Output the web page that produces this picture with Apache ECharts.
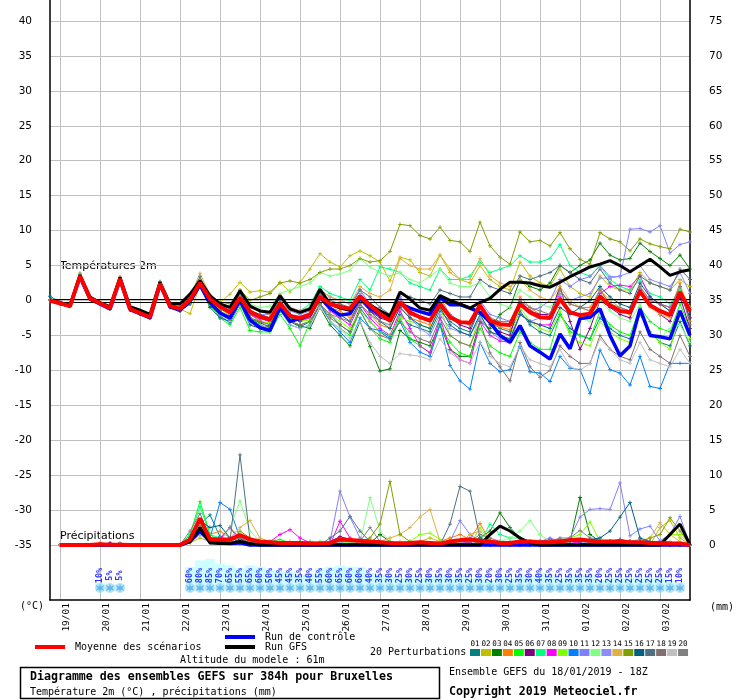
<!DOCTYPE html>
<html><head><meta charset="utf-8">
<script src="https://cdn.jsdelivr.net/npm/echarts@6/dist/echarts.min.js"></script>
<style>html,body{margin:0;padding:0;background:#fff}#c{width:740px;height:700px}</style>
</head><body><div id="c"></div>
<script>
// ---- tick / category labels ----
const dayLabels = ['18/01','19/01','20/01','21/01','22/01','23/01','24/01','25/01','26/01','27/01','28/01','29/01','30/01','31/01','01/02','02/02','03/02'];
const hourLabels = ['18Z','00Z','06Z','12Z'];
const yLeftTicks = [-35, 40, 5];
const yRightTicks = [0, 75, 5];

// ---- temperature (°C), 6-hourly from 18/01 18Z ----
const tMean = [
0.0,-0.4,-0.8,3.5,0.3,-0.4,-1.1,3.1,-1.2,-1.8,-2.4,2.4,-0.8,
-1.2,0.1,2.5,0.2,-0.9,-1.7,0.4,-1.6,-2.3,-2.7,-0.4,-2.2,-2.5,
-2.0,0.5,-0.5,-0.9,-1.2,0.6,-0.7,-1.9,-2.9,-0.2,-1.7,-2.4,-2.9,
-0.5,-2.4,-3.1,-3.2,-0.7,-2.9,-3.4,-3.5,-0.5,-1.7,-2.4,-2.5,0.2,
-1.7,-2.1,-1.9,0.6,-0.7,-1.5,-1.7,1.3,-0.7,-1.5,-2.1,1.2,-1.5];
const tGfs = [
0.1,-0.3,-0.7,3.6,0.5,-0.3,-0.9,3.3,-0.9,-1.4,-2.0,2.6,-0.5,
-0.5,0.9,2.8,0.7,-0.5,-1.0,1.4,-0.8,-1.5,-1.7,0.7,-1.2,-1.7,
-1.2,1.6,-0.5,-1.1,-1.4,0.6,-0.6,-1.5,-2.2,1.2,0.2,-1.1,-1.4,
0.7,0.0,-0.5,-1.1,-0.3,0.3,1.6,2.6,2.6,2.5,2.1,1.9,2.6,
3.4,4.1,4.8,5.2,5.7,5.0,4.1,5.0,5.9,4.8,3.6,4.1,4.4];
const tCtrl = [
0.0,-0.4,-0.8,3.4,0.2,-0.5,-1.2,3.0,-1.3,-1.9,-2.5,2.3,-0.9,
-1.4,-0.1,2.2,-0.3,-1.8,-2.5,0.0,-2.8,-3.9,-4.3,-1.0,-3.0,-2.6,
-2.1,0.5,-1.1,-2.1,-1.9,0.4,-1.1,-2.1,-2.6,-0.5,-1.1,-1.6,-2.0,
0.4,-0.6,-0.6,-1.1,-1.7,-3.1,-5.0,-6.0,-3.6,-6.5,-7.4,-8.4,-4.8,
-6.9,-2.6,-2.4,-1.2,-5.0,-7.9,-6.5,-1.2,-5.0,-5.2,-5.5,-1.5,-5.0];
const t01 = [
0.6,-0.2,-0.6,3.4,0.5,-0.3,-1.0,3.2,-1.0,-1.6,-2.2,2.5,-0.6,
-1.0,0.3,2.0,-0.5,-2.0,-2.8,-0.3,-2.5,-3.5,-4.0,-1.5,-3.0,-3.8,
-3.0,-0.5,-2.0,-3.5,-4.5,-1.0,-3.0,-4.5,-5.5,-2.0,-3.5,-4.0,-4.5,
-1.5,-3.0,-4.0,-4.5,-1.0,-3.0,-4.0,-4.5,-1.5,-3.5,-4.5,-5.0,-2.0,
-4.0,-5.0,-5.5,-2.5,-4.0,-5.0,-5.5,-2.0,-4.5,-6.0,-6.5,-3.0,-6.5];
const t02 = [
0.0,-0.5,-0.9,3.9,0.4,-0.4,-1.1,3.3,-1.1,-1.7,-2.3,2.6,-0.7,
-1.2,-1.9,2.2,0.5,-0.3,0.9,2.6,1.2,1.4,1.2,2.6,1.2,2.6,
4.5,6.7,5.5,4.8,6.4,7.1,6.4,5.5,2.8,6.2,5.8,4.0,3.5,
6.5,4.5,3.0,2.5,5.0,3.0,2.0,1.5,5.5,3.5,2.5,2.0,4.5,
2.0,1.0,0.5,3.5,2.0,1.5,1.5,4.0,2.5,2.0,1.5,3.0,2.0];
const t03 = [
0.1,-0.4,-0.7,3.6,0.2,-0.5,-1.2,3.0,-1.3,-1.9,-2.5,2.3,-1.0,
-1.5,-0.5,2.0,-0.8,-2.0,-2.6,-0.2,-2.5,-3.2,-3.8,-1.5,-3.0,-3.6,
-4.0,-1.0,-3.5,-5.0,-6.5,-3.0,-6.6,-10.1,-9.8,-4.3,-5.5,-6.0,-6.5,
-3.5,-7.0,-8.0,-8.0,-3.0,-4.0,-2.0,-1.0,3.0,2.0,1.5,2.5,5.0,
4.0,5.0,5.8,8.2,6.5,5.8,6.0,8.2,7.0,6.0,5.0,6.5,4.5];
const t04 = [
0.0,-0.3,-0.8,3.4,0.4,-0.3,-1.0,3.2,-1.1,-1.7,-2.3,2.5,-0.8,
-1.2,0.2,2.8,0.3,-1.2,-2.0,0.0,-2.0,-2.8,-3.5,-0.8,-2.5,-3.0,
-2.5,0.8,-1.0,-1.5,-2.5,-0.5,-2.0,-3.5,-4.0,-1.0,-2.5,-3.0,-3.5,
0.5,-2.0,-3.0,-3.5,-0.5,-3.0,-3.8,-4.2,0.5,-1.0,-2.0,-2.0,1.5,
-0.5,-1.0,-1.0,1.5,-0.5,-1.5,-2.0,2.0,0.0,-0.5,-1.5,2.5,-3.0];
const t05 = [
0.0,-0.4,-0.8,3.6,0.3,-0.4,-1.1,3.3,-1.2,-1.8,-2.4,2.6,-0.7,
-1.3,0.0,2.3,-0.5,-2.5,-3.5,-1.0,-4.3,-4.5,-4.5,-2.0,-4.0,-6.5,
-3.1,-0.5,-3.0,-4.0,-5.0,-1.5,-4.0,-5.5,-6.0,-2.5,-5.5,-6.5,-7.5,
-3.5,-6.0,-7.5,-8.0,-4.0,-6.5,-7.5,-8.0,-4.5,-6.0,-7.0,-7.0,-2.0,
-4.5,-5.0,-5.5,-1.5,-3.5,-4.5,-5.0,-1.0,-3.0,-4.0,-4.5,-0.5,-4.0];
const t06 = [
0.0,-0.4,-0.8,3.5,0.2,-0.5,-1.2,3.0,-1.3,-1.9,-2.5,2.3,-0.9,
-1.4,0.0,2.4,0.0,-1.5,-2.5,0.0,-2.0,-2.5,-3.0,-0.5,-2.0,-2.5,
-2.0,0.5,-0.5,-1.0,-1.5,0.5,-1.5,-2.5,-3.0,-0.5,-2.0,-2.5,-3.0,
0.0,-2.5,-3.5,-4.0,-1.0,-3.5,-4.5,-5.0,0.0,-1.5,-2.0,-2.0,2.0,
-3.0,-7.0,-4.0,0.0,-1.0,-2.0,-2.5,1.5,-0.5,-2.0,-3.0,0.5,-4.0];
const t07 = [
0.0,-0.4,-0.8,3.7,0.3,-0.4,-1.1,3.2,-1.2,-1.8,-2.4,2.5,-0.8,
-1.1,0.3,2.5,0.5,-0.5,-1.5,1.0,-1.5,-2.0,-2.5,0.5,-1.5,-1.5,
-0.5,2.0,1.0,0.5,0.0,3.0,1.5,4.8,4.5,4.0,2.5,2.0,1.5,
4.5,3.0,3.0,3.5,5.5,4.0,4.5,5.0,6.4,5.5,5.5,6.0,8.0,
5.0,4.0,3.5,5.0,3.0,2.0,1.5,3.0,1.0,0.5,-0.5,1.5,-1.0];
const t08 = [
0.0,-0.4,-0.8,3.5,0.3,-0.4,-1.1,3.1,-1.2,-1.8,-2.4,2.4,-0.8,
-1.2,0.2,2.5,0.1,-1.0,-1.8,0.3,-2.0,-2.6,-3.0,-0.5,-2.0,-2.8,
-2.5,0.2,-1.5,-2.5,-3.5,-0.5,-2.5,-4.0,-5.0,-1.5,-4.0,-6.5,-7.5,
-2.5,-7.0,-8.5,-9.0,-3.0,-5.0,-5.8,-6.0,-2.0,-3.0,-3.5,-3.5,0.5,
-1.5,-2.0,-2.0,1.0,2.0,2.2,2.0,3.5,0.5,-0.5,-1.0,1.0,-2.5];
const t09 = [
0.0,-0.4,-0.8,3.6,0.4,-0.3,-1.0,3.2,-1.1,-1.7,-2.3,2.5,-0.7,
-1.1,0.4,2.3,0.0,-1.2,-2.2,0.1,-2.5,-3.0,-3.2,-0.8,-2.5,-3.0,
-2.8,-0.5,-2.0,-3.0,-4.0,-1.5,-3.0,-4.5,-5.0,-2.5,-3.0,-3.5,-4.0,
-1.0,-5.0,-6.0,-6.5,-2.0,-4.5,-5.0,-5.5,-1.0,-3.0,-4.0,-4.5,-1.5,
-5.0,-6.0,-6.5,-3.0,-4.5,-5.5,-6.0,-2.0,-4.5,-6.0,-7.0,-2.0,-5.5];
const t10 = [
0.0,-0.4,-0.8,3.4,0.2,-0.5,-1.2,3.0,-1.3,-1.9,-2.5,2.3,-0.9,
-1.5,-0.2,2.2,-0.3,-2.2,-3.2,-0.5,-3.0,-3.8,-4.2,-1.2,-3.5,-4.0,
-3.5,-0.5,-3.0,-4.5,-6.0,-2.5,-4.0,-4.3,-5.2,-3.0,-6.0,-7.4,-8.0,
-3.4,-9.3,-11.5,-12.7,-6.0,-9.0,-10.2,-9.9,-6.6,-10.2,-10.4,-11.6,-8.0,
-9.7,-9.9,-13.3,-7.1,-9.9,-10.4,-12.1,-8.0,-12.3,-12.6,-9.0,-9.0,-9.0];
const t11 = [
0.0,-0.4,-0.8,3.5,0.3,-0.4,-1.1,3.1,-1.2,-1.8,-2.4,2.4,-0.8,
-1.2,0.3,2.6,0.6,-0.5,-1.2,1.0,-1.0,-1.5,-2.0,0.5,-1.0,-1.5,
-1.0,1.5,0.5,0.0,-0.5,1.5,-0.5,-1.5,-2.0,0.5,-1.5,-2.5,-3.0,
0.0,-2.0,-3.0,-3.5,0.0,-2.0,-2.5,-3.0,-0.5,-1.5,-1.0,0.0,3.0,
2.0,3.0,3.4,5.0,3.4,3.4,10.2,10.3,9.8,10.7,6.8,8.0,8.4];
const t12 = [
0.0,-0.4,-0.8,3.6,0.3,-0.4,-1.1,3.2,-1.2,-1.8,-2.4,2.5,-0.8,
-1.2,0.2,2.5,0.2,-0.5,-1.0,0.8,-0.5,-1.0,-0.8,1.0,1.5,2.0,
2.5,4.0,3.5,3.8,4.3,6.0,4.8,4.0,3.5,4.0,3.0,2.5,3.5,
4.5,2.5,2.0,2.0,2.5,0.5,-0.5,-1.0,1.5,0.5,-0.5,-1.0,1.0,
-1.5,-2.5,-3.0,0.0,-1.5,-2.5,-3.0,-0.5,-5.0,-5.5,-4.0,-3.5,-6.0];
const t13 = [
0.0,-0.4,-0.8,3.4,0.3,-0.4,-1.1,3.0,-1.2,-1.8,-2.4,2.3,-0.8,
-1.2,0.0,2.2,0.2,-1.0,-1.5,0.5,-1.5,-2.0,-2.0,0.0,-1.5,-2.0,
-1.5,1.0,-0.5,-1.0,-1.5,1.0,-0.5,-1.5,-2.5,0.5,-2.5,-4.0,-5.0,
-2.0,-4.0,-4.5,-5.0,-2.5,-4.5,-5.5,-5.8,-2.0,-3.0,-2.5,-2.0,1.0,
0.0,0.5,1.0,3.2,3.2,3.5,4.0,5.0,3.0,2.5,2.0,4.0,1.0];
const t14 = [
0.0,-0.4,-0.8,3.9,0.4,-0.3,-1.0,3.4,-1.1,-1.7,-2.3,2.6,-0.6,
-1.0,0.5,3.9,0.8,-0.5,-1.0,1.5,-1.0,-1.5,-2.0,0.8,-1.0,-1.5,
-1.0,1.5,0.5,0.0,-0.5,2.0,1.0,0.5,1.5,6.0,5.0,4.5,4.5,
6.5,4.0,3.0,3.0,6.0,3.5,2.5,2.0,3.0,1.5,0.5,0.0,2.0,
0.0,-1.0,-1.5,1.5,0.0,-1.0,-1.5,1.0,-1.0,-2.0,-2.5,2.0,-1.0];
const t15 = [
0.0,-0.4,-0.8,3.5,0.3,-0.4,-1.1,3.1,-1.2,-1.8,-2.4,2.4,-0.8,
-1.2,0.2,2.6,0.6,-0.2,-0.5,1.5,0.0,0.5,1.0,2.5,2.8,2.5,
3.0,4.0,4.5,4.5,5.0,6.0,5.5,5.7,7.0,10.9,10.7,9.3,8.8,
10.5,8.6,8.4,7.0,11.2,7.8,6.2,5.2,9.8,8.4,8.6,7.8,9.7,
7.4,5.9,5.2,9.7,8.8,8.4,7.1,8.8,8.1,7.7,7.4,10.2,9.8];
const t16 = [
0.0,-0.4,-0.8,3.4,0.2,-0.5,-1.2,3.0,-1.3,-1.9,-2.5,2.3,-0.9,
-1.4,-0.5,2.0,-1.0,-2.5,-3.0,-0.5,-3.5,-4.0,-3.5,-1.0,-2.5,-3.0,
-2.0,0.5,-1.0,-2.0,-3.0,0.0,-1.5,-3.0,-4.0,-1.0,-2.5,-3.5,-4.0,
-1.0,-3.5,-4.5,-5.0,-2.0,-4.5,-5.0,-5.5,-2.0,-3.0,-3.5,-4.0,-1.0,
-2.0,-1.0,0.0,2.0,0.5,-0.5,-1.0,2.5,0.5,-0.5,-1.5,1.0,-2.5];
const t17 = [
0.0,-0.4,-0.8,3.7,0.4,-0.3,-1.0,3.3,-1.1,-1.7,-2.3,2.7,-0.6,
-1.0,0.8,3.4,0.5,-0.8,-1.5,0.8,-1.5,-2.0,-2.5,0.0,-2.0,-2.5,
-2.0,1.0,0.0,-0.5,-1.0,1.5,0.5,-1.0,-2.0,1.0,0.5,0.0,-0.5,
1.5,1.0,0.5,0.5,3.0,2.0,1.5,1.0,3.5,3.0,3.5,4.0,5.0,
4.0,3.0,2.5,4.5,2.5,1.5,1.0,3.5,2.5,2.0,1.5,4.5,3.0];
const t18 = [
0.0,-0.4,-0.8,3.5,0.3,-0.4,-1.1,3.1,-1.2,-1.8,-2.4,2.4,-0.8,
-1.2,0.0,2.4,-0.2,-1.8,-2.8,-0.5,-2.5,-3.0,-3.5,-1.0,-3.0,-3.5,
-3.0,-0.5,-2.5,-3.5,-4.5,-1.5,-4.0,-5.0,-5.5,-3.0,-4.5,-5.5,-6.0,
-2.5,-5.0,-6.0,-6.5,-3.0,-7.5,-9.5,-11.5,-6.0,-9.5,-11.0,-10.0,-6.5,
-8.0,-9.0,-9.0,-5.0,-7.0,-8.0,-8.5,-4.5,-7.0,-8.0,-9.0,-5.0,-8.0];
const t19 = [
0.0,-0.4,-0.8,3.4,0.2,-0.5,-1.2,3.0,-1.3,-1.9,-2.5,2.3,-0.9,
-1.4,-0.3,2.3,-0.5,-2.0,-3.0,-0.5,-3.0,-3.5,-4.0,-1.5,-3.5,-4.0,
-3.5,-1.0,-3.0,-4.0,-5.5,-3.0,-6.0,-8.0,-9.0,-7.6,-7.8,-8.0,-8.5,
-5.5,-7.5,-8.5,-9.0,-6.0,-8.0,-9.0,-9.5,-6.5,-8.5,-9.0,-9.5,-7.0,
-9.5,-10.0,-9.0,-5.5,-7.0,-8.5,-9.0,-6.0,-8.5,-9.0,-9.5,-7.0,-9.0];
const t20 = [
0.0,-0.4,-0.8,3.6,0.3,-0.4,-1.1,3.2,-1.2,-1.8,-2.4,2.5,-0.8,
-1.2,0.5,3.0,0.0,-1.5,-2.5,0.3,-2.0,-3.0,-4.0,-1.0,-3.0,-3.5,
-3.0,-0.5,-2.0,-2.5,-3.0,-0.5,-2.0,-3.0,-3.5,-0.5,-2.0,-2.5,-3.0,
-0.5,-2.5,-3.0,-3.5,-1.0,-2.5,-3.0,-3.0,0.0,-1.0,-1.5,-2.0,1.5,
-0.5,-1.0,-1.5,1.5,-0.5,-1.0,-1.5,2.0,0.0,-0.5,-1.0,2.0,-3.5];

// ---- precipitation (mm / 6h) ----
const pMean = [
null,0,0,0,0,0.1,0.05,0.05,0,0,0,0,0,
0,0.8,3.8,0.8,0.8,0.8,1.4,0.8,0.5,0.4,0.3,0.3,0.3,
0.2,0.2,0.3,0.8,0.7,0.6,0.5,0.4,0.3,0.2,0.3,0.4,0.3,
0.2,0.5,0.7,0.8,0.6,0.5,0.3,0.3,0.5,0.5,0.4,0.4,0.5,
0.7,0.8,0.6,0.5,0.5,0.5,0.4,0.4,0.3,0.3,0.2,0.2,0];
const pGfs = [
null,0,0,0,0,0,0,0,0,0,0,0,0,
0,0.5,2.5,0.3,0.2,0.2,0.5,0.2,0,0,0,0,0,
0,0,0,0,0,0,0,0,0,0,0,0,0,
0,0,0,0,0,1.5,2.7,2.0,1.0,0.3,0,0,0,
0,0,0,0,0,0,0,0,0,0,1.5,3.0,0];
const pCtrl = [
null,0,0,0,0,0,0,0,0,0,0,0,0,
0,0.5,2.0,0.5,0.3,0.2,0.3,0,0,0,0,0,0,
0,0,0,0,0,0,0,0,0,0,0,0,0,
0,0,0,0,0,0,0,0,0,0,0,0,0,
0,0,0,0,0,0,0,0,0,0,0,0,0];
const p01 = [
null,0,0,0,0,0,0,0,0,0,0,0,0,
0,1.0,3.0,4.3,1.2,0.5,0.3,0.2,0,0,0.2,0,0,
0,0,0.3,0.5,0.3,0,0,0,0,0,0,0,0,
0,0,0.5,0.3,0,0,0,0.3,0.5,0,0,0,0,
0,0,0,0,0,0,0.5,0.3,0,0,0,0,0];
const p02 = [
null,0,0,0,0,0,0,0,0,0,0,0,0,
0,0.3,1.0,0.5,0.5,0.5,0.3,0.2,0,0,0,0,0.3,
0.5,0.2,0,0,0,0,0.3,0.5,0.3,0,0,0.5,1.0,
0.5,0.3,0,0,0,0,0,0.5,0.3,0,0,0,0,
0.3,0,0,0,0,0.5,0.3,0,0,2.5,3.5,1.0,0];
const p03 = [
null,0,0,0,0,0,0,0,0,0,0,0,0,
0,1.0,3.0,1.0,0.5,0.3,0.2,0,0,0,0,0.3,0.5,
0.3,0,0,0,0.3,0.5,0.3,1.5,0.5,0,0,0,0,
0,0,0,0.5,1.0,2.0,4.6,2.5,1.0,0.5,0.5,0.8,0.5,
0.5,6.8,1.5,0.5,0.5,0.8,0.5,0.5,0.3,0.3,0,0,0];
const p04 = [
null,0,0,0,0,0.3,0,0,0,0,0,0,0,
0,0.5,2.5,1.5,2.0,1.0,0.5,0.2,0,0,0.2,0.5,0.3,
0.2,0,0,0,0,0,0,0,0.3,0.5,0.3,0,0,
0.5,1.0,1.5,0.8,3.1,0.5,0.3,0,0,0,0.5,0.3,0,
0,0,0,0.5,0.5,0.3,0,0,0,0,0,0,0];
const p05 = [
null,0,0,0,0,0,0,0,0,0,0,0,0,
0,1.5,6.2,1.5,0.5,0.5,0.3,0.5,0.5,0.5,0.8,0.3,0.5,
0.3,0.5,0.3,0.5,0.5,0.3,0,0,0,0,0,0,0,
0,0,0,0,0,0,0,0,0,0.3,0.5,0.3,0,
0,0,0,0,0,0,0.3,0.5,0,0.5,0.5,0,0];
const p06 = [
null,0,0,0,0,0,0.3,0,0,0,0,0,0,
0,0.5,2.0,0.5,0.5,0.3,0.8,0.3,0,0,0,0,0,
0,0,0.5,1.2,0.8,0.3,0,0,0,0,0,0,0,
0.3,0.5,0.3,0,0,0,0,0,0,0,0,0,0.3,
0.5,0.3,0,0,0,0,0.3,0.5,0.3,0,0,0,0];
const p07 = [
null,0,0,0,0,0,0,0,0,0,0,0,0,
0,1.5,5.5,1.5,1.0,0.5,0.3,0.2,0,0,0,0,0.3,
0.5,0.3,0,0,0,0,0,0,0,0,0,0,0,
0,0,0,0,0.5,3.0,1.5,1.0,1.0,0.5,0.3,0.5,0.3,
0.5,0.5,0.3,0,0,0,0.3,0,0,0,0,0.3,0];
const p08 = [
null,0,0,0,0,0,0,0,0,0,0,0,0,
0,0.5,2.0,0.5,0.8,2.5,0.5,0.3,0.3,0.5,1.5,2.2,1.0,
0.3,0,0,3.4,1.0,0.3,0,0,0,0,0,0,0,
0,0.3,0.5,0.3,0,0,0,0,0,0,0.5,0.8,0.8,
0.5,0.3,0,0,0.5,0.8,0.5,0,0,0,0,0,0];
const p09 = [
null,0,0,0,0,0,0,0,0,0,0,0,0,
0,0.5,2.5,0.5,0.3,0.3,0.5,0.3,0.2,0,0,0,0,
0,0,0.3,0.5,0.3,0,0,0,0,0,0.5,1.5,1.7,
0.8,0.3,0,0,2.5,0.5,0.3,0.3,0,0,0,0,0.5,
1.0,1.5,3.3,0.5,0,0,0,0,0,0.5,1.5,1.5,0];
const p10 = [
null,0,0,0,0,0,0,0,0,0,0,0,0,
0,0.5,1.5,1.0,6.1,5.1,1.0,0.3,0,0,0,0,0,
0,0,0,0,0,0,0,0,0,0,0,0,0,
0,0,0,0,0,0,0,0,0.5,0.3,0,0,0,
0,0,0,0,0,0,0,0,0,0,0,0,0];
const p11 = [
null,0,0,0,0,0,0,0,0,0,0,0,0,
0,0.5,2.0,0.5,0.3,0.3,0.5,0.3,0,0,0,0,0,
0,0,0.5,7.7,4.0,1.0,0.3,0,0,0,0,0,0,
0,0.5,3.5,1.5,0.5,0.3,0.3,0.5,0.5,0.5,0.5,1.0,0.5,
1.0,4.0,5.1,5.2,5.1,8.9,1.3,2.3,2.7,0.6,1.5,4.1,0];
const p12 = [
null,0,0,0,0,0,0,0,0,0,0,0,0,
0,1.0,3.0,0.5,0.5,2.5,6.3,2.0,0.5,0.3,0.3,0.2,0,
0,0,0,0.3,0.5,0.3,6.8,2.0,0.5,0,0,0,0,
0,0,0,0,0.5,0.5,0.5,1.0,2.0,3.5,1.5,0.5,0.3,
0,0,0,0,0,0,0.5,0.5,0.3,0,0,0,0];
const p13 = [
null,0,0,0,0,0.2,0,0,0,0,0,0,0,
0,0.5,2.0,0.3,0.3,0.3,0.3,0.2,0,0,0,0,0,
0,0,0,0.3,0.8,0.5,0.3,0,0,0,0,0,0,
0,0,0.3,1.0,0.5,0,0,0.3,0.5,0.3,0,0,0.3,
0.5,0.5,0.3,0,0,0,0.5,0.8,0.5,0.5,0,0,0];
const p14 = [
null,0,0,0,0,0,0,0,0,0,0,0,0,
0,0.8,3.5,0.5,0.5,1.0,2.5,3.5,1.0,0.5,0.3,0,0,
0,0,0,0,0,0,0.3,0.5,1.0,1.5,2.5,4.0,5.1,
0.5,0.5,0.3,1.5,2.0,0.5,0,0,0,0,0,0,0,
0,0,0,0,0,0,0.3,0.5,1.0,3.2,1.5,0.5,0];
const p15 = [
null,0,0,0,0,0,0,0,0,0,0,0,0,
0,0.5,2.0,0.5,0.5,0.3,2.0,1.0,0.5,0.3,0,0,0,
0,0,0,0,0,0.3,1.0,3.0,9.1,1.5,0.5,0,0,
0,0,0,0,0,0.3,0.3,0.3,0,0,0,0,0,
0,0,0,0,0,0,0.5,0.5,1.0,1.5,3.9,2.0,0];
const p16 = [
null,0,0,0,0,0,0,0,0,0,0,0,0,
0,1.0,3.5,2.5,2.8,1.0,0.5,0.3,0,0,0,0,0,
0,0,0,0,0,0,0,0,0,0,0,0,0,
0,0,0,0,0,0,0,0,0,0,0.3,0.5,0.5,
0.5,0.5,0.8,1.0,2.0,4.0,6.1,1.0,0.5,0.3,0,0,0];
const p17 = [
null,0,0,0,0,0,0,0,0,0,0,0,0,
0,1.0,2.5,1.0,0.5,0.6,12.9,0.8,0.3,0,0,0,0,
0,0,1.0,2.0,4.1,2.0,0.5,0,0,0,0,0,0,
0,3.0,8.4,7.7,1.0,0.5,0.3,0,0,0,0,0,0,
0,0,0,0,0,0,0.5,0.5,0.5,0,0,0,0];
const p18 = [
null,0,0,0,0,0,0,0,0,0,0,0,0,
0,1.0,2.5,1.0,1.0,2.5,1.0,0.3,0,0,0,0,0,
0,0,0,0,0,0,0,0,0,0,0,0,0,
0,0,0,0.5,0.3,0,0,0,0,0,0,0,0,
0,0,0,0,0,0,0.3,0.5,0.3,0,0,0,0];
const p19 = [
null,0,0,0,0,0,0,0,0,0,0,0,0,
0,0.5,1.5,0.5,0.3,0.3,0.3,0.2,0,0,0,0,0,
0,0,0,0,0.3,0.3,0.5,0.3,0,0,0,0,0,
0,0,0,0,0,0.3,0.5,0.3,0,0,0,0,0,
0,0,0,0,0,0,0,0,0,0,0.3,0.5,0];
const p20 = [
null,0,0,0,0,0,0,0.3,0,0,0,0,0,
0,2.0,4.5,1.0,1.0,0.5,1.0,0.5,0.3,0,0,0,0,
0,0,0,0,0,0.5,2.5,0.5,0.3,0,0,0,0,
0,0.3,0.5,0.5,1.5,1.0,0.5,0,0,0,0,0.5,1.0,
1.0,2.1,1.0,0.5,0.5,0.5,0.3,0,0,0,0,0,0];

// ---- probability of precipitation (%) ----
const probPct = [
null,null,null,null,null,10,5,5,null,null,null,null,null,
null,60,80,85,70,65,55,65,60,50,45,45,35,
40,55,60,65,60,60,40,35,30,25,30,25,30,
35,30,35,25,30,20,30,25,35,30,40,35,25,
35,35,35,20,25,25,25,25,25,25,15,10,null];

const pertNames = ['01','02','03','04','05','06','07','08','09','10','11','12','13','14','15','16','17','18','19','20'];
const pertColors = ['#008080','#c0c000','#008000','#ff8000','#00ff00','#800080','#00ff80','#ff00ff','#80ff00','#0080ff',
                    '#8080ff','#80ff80','#8c8cff','#e0b040','#80a000','#006080','#507080','#807070','#c0c0c0','#808080'];
const pertTemp = [t01,t02,t03,t04,t05,t06,t07,t08,t09,t10,t11,t12,t13,t14,t15,t16,t17,t18,t19,t20];
const pertPrec = [p01,p02,p03,p04,p05,p06,p07,p08,p09,p10,p11,p12,p13,p14,p15,p16,p17,p18,p19,p20];

// categories
const cats = [];
for (let k = 0; k < 65; k++) cats.push(dayLabels[Math.floor((k + 3) / 4)] + ' ' + hourLabels[k % 4]);

const MONO = '"DejaVu Sans Mono", monospace';
const SANS = '"DejaVu Sans", sans-serif';
const plus = 'path://M2,0L3,0L3,2L5,2L5,3L3,3L3,5L2,5L2,3L0,3L0,2L2,2Z';
const flake = 'path://M5,0L5.9,3.4L9.3,1.7L7.2,5L9.3,8.3L5.9,6.6L5,10L4.1,6.6L0.7,8.3L2.8,5L0.7,1.7L4.1,3.4Z';

const series = [];
pertTemp.forEach((d, i) => {
  const s = {type:'line', name:'T'+pertNames[i], xAxisIndex:0, yAxisIndex:0, data:d, clip:false,
    symbol:plus, symbolSize:4, showSymbol:true, color:pertColors[i],
    lineStyle:{width:1, color:pertColors[i]}, itemStyle:{color:pertColors[i]}, z:2, silent:true};
  if (i === 0) s.markLine = {silent:true, symbol:'none', label:{show:false}, animation:false,
    lineStyle:{color:'#000', width:1, type:'solid'}, data:[{yAxis:0.2},{yAxis:-0.2}]};
  series.push(s);
});
pertPrec.forEach((d, i) => {
  series.push({type:'line', name:'P'+pertNames[i], xAxisIndex:0, yAxisIndex:1, data:d, clip:false,
    symbol:plus, symbolSize:4, showSymbol:true, color:pertColors[i],
    lineStyle:{width:1, color:pertColors[i]}, itemStyle:{color:pertColors[i]}, z:2, silent:true});
});
const mainLine = (name, d, yi, color, w, z) => ({type:'line', name, xAxisIndex:0, yAxisIndex:yi, data:d, clip:false,
  symbol:'none', lineStyle:{width:w, color}, itemStyle:{color}, z, silent:true});
series.push(mainLine('Ctrl T', tCtrl, 0, '#0000ff', 3.5, 3));
series.push(mainLine('Ctrl P', pCtrl, 1, '#0000ff', 3.5, 3));
series.push(mainLine('GFS T', tGfs, 0, '#000000', 3, 4));
series.push(mainLine('GFS P', pGfs, 1, '#000000', 3, 4));
series.push(mainLine('Moy T', tMean, 0, '#ff0000', 4, 5));
series.push(mainLine('Moy P', pMean, 1, '#ff0000', 4, 5));

// probability band
series.push({type:'bar', xAxisIndex:2, yAxisIndex:4, data:probPct, barWidth:10, itemStyle:{color:'#ccffff'}, z:1, silent:true});
const probPts = [];
probPct.forEach((p, i) => { if (p != null) probPts.push([i, p]); });
series.push({type:'scatter', xAxisIndex:2, yAxisIndex:4, clip:false, silent:true, z:2,
  data: probPts.map(q => [q[0], -6.5]), symbol:'circle', symbolSize:10, itemStyle:{color:'#a6def8'}});
series.push({type:'scatter', xAxisIndex:2, yAxisIndex:4, clip:false, silent:true, z:3,
  data: probPts.map(q => [q[0], -6.5]), symbol:flake, symbolSize:9, itemStyle:{color:'#48aeea'}});
series.push({type:'scatter', xAxisIndex:2, yAxisIndex:4, clip:false, silent:true, z:4,
  data: probPts.map(q => ({value:[q[0], 39], pct:q[1]})), symbolSize:1, itemStyle:{color:'rgba(0,0,0,0)'},
  label:{show:true, position:'inside', rotate:90, offset:[-2,0], formatter:(p)=> p.data.pct + '%',
    color:'#0000ff', fontFamily:MONO, fontSize:8.5, fontWeight:'bold'}});

// graphics: legend and captions
const g = [];
const txt = (text, x, y, opt) => g.push(Object.assign({type:'text', silent:true, style:Object.assign({text, x, y,
  fill:'#000', font:'10px ' + MONO, align:'left', verticalAlign:'middle', textAlign:'left', textVerticalAlign:'middle'}, opt||{})}));
txt('Températures 2m', 60, 266, {font:'11px ' + SANS});
txt('Précipitations', 60, 536, {font:'11px ' + SANS});
txt('(°C)', 20, 606);
txt('(mm)', 710, 607);
g.push({type:'line', silent:true, shape:{x1:35,y1:647,x2:65,y2:647}, style:{stroke:'#ff0000', lineWidth:4}});
txt('Moyenne des scénarios', 75, 647);
g.push({type:'line', silent:true, shape:{x1:225,y1:637,x2:255,y2:637}, style:{stroke:'#0000ff', lineWidth:4}});
txt('Run de contrôle', 265, 637);
g.push({type:'line', silent:true, shape:{x1:225,y1:647,x2:255,y2:647}, style:{stroke:'#000000', lineWidth:4}});
txt('Run GFS', 265, 647);
txt('Altitude du modele : 61m', 180, 660);
txt('20 Perturbations', 370, 652);
pertNames.forEach((n, i) => {
  const x = 470 + i * 10.95;
  g.push({type:'rect', silent:true, shape:{x:x, y:649, width:10, height:7}, style:{fill:pertColors[i]}});
  txt(n, x + 5, 644, {font:'7.6px ' + MONO, align:'center', textAlign:'center'});
});
g.push({type:'rect', silent:true, shape:{x:20.5, y:667.5, width:419, height:31}, style:{fill:'#fff', stroke:'#000', lineWidth:1.5}});
txt('Diagramme des ensembles GEFS sur 384h pour Bruxelles', 30, 677, {font:'bold 11.6px ' + MONO});
txt('Température 2m (°C) , précipitations (mm)', 30, 692);
txt('Ensemble GEFS du 18/01/2019 - 18Z', 449, 672);
txt('Copyright 2019 Meteociel.fr', 449, 692, {font:'bold 11.6px ' + MONO});

const isMidnight = (i) => i % 4 === 1;
const option = {
  animation:false,
  backgroundColor:'#fff',
  grid:[
    {left:50, right:50, top:21, bottom:155},
    {left:50, right:50, top:0, bottom:100},
    {left:50, right:50, top:554, bottom:114}
  ],
  xAxis:[
    {type:'category', gridIndex:0, data:cats, boundaryGap:false, show:false},
    {type:'category', gridIndex:1, data:cats, boundaryGap:false,
      axisLine:{show:true, lineStyle:{color:'#000', width:1.5}}, axisTick:{show:false},
      splitLine:{show:true, interval:(i)=>isMidnight(i), lineStyle:{color:'#c0c0c0', width:1}},
      axisLabel:{interval:(i)=>isMidnight(i), rotate:90, margin:3, formatter:(v)=>v.slice(0,5),
        color:'#000', fontFamily:MONO, fontSize:9.5, verticalAlign:'top', lineHeight:14}},
    {type:'category', gridIndex:2, data:cats, boundaryGap:false, show:false}
  ],
  yAxis:[
    {type:'value', gridIndex:0, min:yLeftTicks[0], max:yLeftTicks[1], interval:yLeftTicks[2],
      axisLine:{show:false}, axisTick:{show:false},
      splitLine:{show:true, lineStyle:{color:'#c0c0c0', width:1}},
      axisLabel:{margin:18, color:'#000', fontFamily:SANS, fontSize:10.5}},
    {type:'value', gridIndex:0, position:'right', min:yRightTicks[0], max:yRightTicks[1], interval:yRightTicks[2],
      axisLine:{show:false}, axisTick:{show:false}, splitLine:{show:false},
      axisLabel:{margin:19, color:'#000', fontFamily:SANS, fontSize:10.5}},
    {type:'value', gridIndex:1, min:0, max:1, axisLine:{show:true, onZero:false, lineStyle:{color:'#000', width:1.5}},
      axisTick:{show:false}, axisLabel:{show:false}, splitLine:{show:false}},
    {type:'value', gridIndex:1, position:'right', min:0, max:1, axisLine:{show:true, onZero:false, lineStyle:{color:'#000', width:1.5}},
      axisTick:{show:false}, axisLabel:{show:false}, splitLine:{show:false}},
    {type:'value', gridIndex:2, min:0, max:100, show:false}
  ],
  series,
  graphic:{elements:g}
};
const chart = echarts.init(document.getElementById('c'));
chart.setOption(option);
</script>
</body></html>
